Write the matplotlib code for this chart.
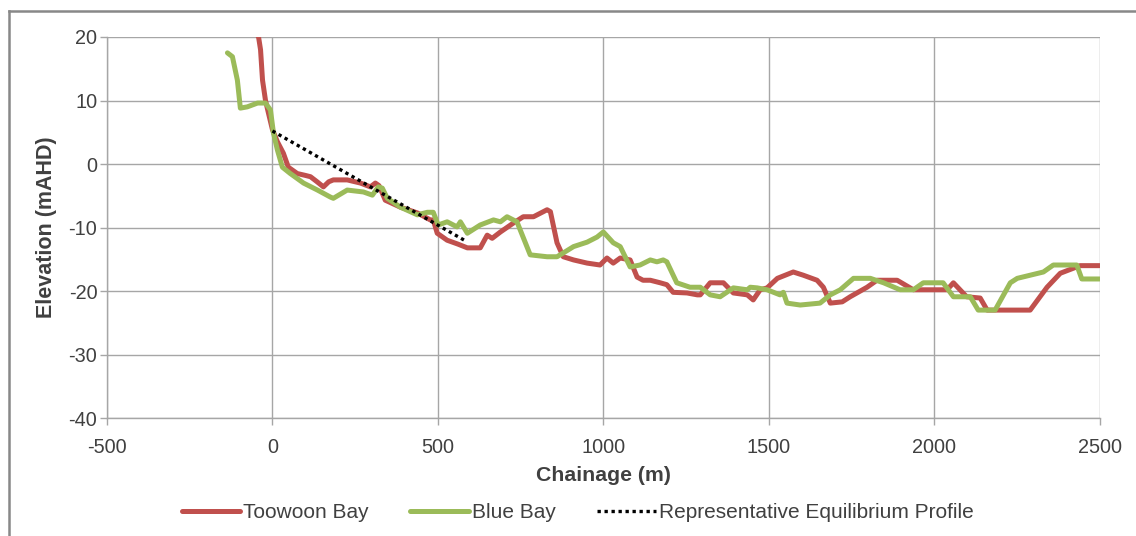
import matplotlib
matplotlib.use('Agg')
import matplotlib.pyplot as plt
from matplotlib.lines import Line2D

plt.rcParams['font.family'] = ['Liberation Sans', 'DejaVu Sans']
plt.rcParams['axes.unicode_minus'] = False

# Toowoon Bay profile (chainage m, elevation mAHD)
toowoon_x = [-100, -60, -42, -36, -30, -21, -12, 0, 15, 33, 48, 75, 100, 115, 135, 154,
             170, 184, 226, 266, 296, 311, 322, 332, 341, 387, 438, 477, 486, 498, 528,
             560, 589, 628, 649, 664, 689, 728, 758, 789, 830, 840, 860, 879, 910, 951,
             990, 1011, 1030, 1051, 1081, 1102, 1120, 1142, 1172, 1192, 1211, 1253, 1284,
             1293, 1323, 1363, 1393, 1435, 1453, 1474, 1495, 1526, 1574, 1604, 1646, 1665,
             1686, 1722, 1746, 1797, 1827, 1888, 1937, 2018, 2039, 2058, 2098, 2139, 2160,
             2290, 2341, 2381, 2441, 2500]
toowoon_y = [23, 21.5, 20, 18, 13.2, 10, 8, 5.4, 3.5, 1.7, -0.5, -1.5, -1.8, -2.0, -2.8,
             -3.6, -2.8, -2.5, -2.5, -3.0, -3.6, -3.0, -3.4, -4.6, -5.7, -6.8, -7.7, -8.8,
             -8.8, -10.9, -12.0, -12.6, -13.2, -13.2, -11.2, -11.7, -10.7, -9.3, -8.3, -8.3,
             -7.2, -7.5, -12.4, -14.6, -15.1, -15.6, -15.9, -14.8, -15.6, -14.8, -15.1,
             -17.8, -18.3, -18.3, -18.7, -19.0, -20.2, -20.3, -20.6, -20.6, -18.7, -18.7,
             -20.3, -20.6, -21.4, -19.8, -19.5, -18.0, -17.0, -17.5, -18.3, -19.4, -21.9,
             -21.7, -20.9, -19.4, -18.3, -18.3, -19.8, -19.8, -19.8, -18.7, -20.9, -21.1,
             -23.0, -23.0, -19.4, -17.2, -16.0, -16.0]

# Blue Bay profile
blue_x = [-136, -121, -106, -97, -76, -45, -21, -6, 3, 15, 30, 54, 94, 136, 175, 184, 226,
          275, 302, 320, 332, 347, 387, 438, 468, 486, 501, 528, 558, 568, 589, 628, 668,
          689, 709, 739, 779, 830, 860, 879, 910, 951, 981, 1000, 1030, 1051, 1081, 1111,
          1142, 1162, 1181, 1192, 1222, 1262, 1293, 1323, 1353, 1393, 1435, 1444, 1465,
          1495, 1534, 1544, 1555, 1595, 1655, 1686, 1716, 1756, 1807, 1847, 1897, 1937,
          1967, 2027, 2058, 2109, 2133, 2184, 2230, 2251, 2330, 2360, 2431, 2446, 2500]
blue_y = [17.5, 16.9, 13.2, 8.8, 9.0, 9.6, 9.6, 8.5, 4.9, 2.2, -0.5, -1.5, -3.0, -4.1,
          -5.2, -5.4, -4.1, -4.4, -4.9, -3.6, -3.8, -5.4, -6.8, -8.0, -7.6, -7.6, -9.6,
          -9.1, -9.9, -9.1, -10.9, -9.6, -8.8, -9.1, -8.3, -9.1, -14.3, -14.6, -14.6,
          -14.0, -13.0, -12.3, -11.5, -10.7, -12.4, -13.0, -16.2, -15.9, -15.1, -15.4,
          -15.1, -15.4, -18.7, -19.4, -19.4, -20.6, -20.9, -19.5, -19.8, -19.4, -19.5,
          -19.8, -20.6, -20.2, -21.9, -22.2, -21.9, -20.6, -19.8, -18.0, -18.0, -18.7,
          -19.8, -19.8, -18.7, -18.7, -20.9, -20.9, -23.0, -23.0, -18.7, -18.0, -17.0,
          -15.9, -15.9, -18.1, -18.1]

# representative equilibrium profile
equil_x = [0, 290, 580]
equil_y = [5.2, -3.4, -12.0]

fig = plt.figure(figsize=(11.36, 5.36), dpi=100)
ax = fig.add_axes([0.0942, 0.22, 0.8738, 0.711])

ax.plot(toowoon_x, toowoon_y, color='#C0504D', lw=3.6, label='Toowoon Bay',
        solid_capstyle='round', solid_joinstyle='round', zorder=3)
ax.plot(blue_x, blue_y, color='#9BBB59', lw=3.6, label='Blue Bay',
        solid_capstyle='round', solid_joinstyle='round', zorder=4)
ax.plot(equil_x, equil_y, color='black', lw=2.4, linestyle=(0, (1, 1.1)),
        label='Representative Equilibrium Profile', zorder=5)

ax.set_xlim(-500, 2500)
ax.set_ylim(-40, 20)
ax.set_xticks(range(-500, 2501, 500))
ax.set_yticks(range(-40, 21, 10))
ax.grid(True, color='#a6a6a6', lw=1.0)
ax.set_axisbelow(True)
for s in ['top', 'right']:
    ax.spines[s].set_visible(False)
for s in ['left', 'bottom']:
    ax.spines[s].set_color('#a6a6a6')
    ax.spines[s].set_linewidth(1.0)
ax.tick_params(axis='both', colors='#a6a6a6', length=5, width=1.0,
               labelcolor='#404040', labelsize=14.3)
ax.tick_params(axis='y', pad=2)
ax.tick_params(axis='x', pad=9)

ax.set_xlabel('Chainage (m)', fontsize=15.3, fontweight='bold', color='#404040', labelpad=7)
ax.set_ylabel('Elevation (mAHD)', fontsize=15.5, fontweight='bold', color='#404040', labelpad=8)

leg = ax.legend(loc='center', bbox_to_anchor=(0.474, -0.249), ncol=3, frameon=False,
                fontsize=15, handlelength=2.8, handletextpad=0.15, columnspacing=2.0)
for t in leg.get_texts():
    t.set_color('#404040')

# outer frame (partly cropped in the original)
fig.add_artist(Line2D([9 / 1136, 1], [1 - 11 / 536, 1 - 11 / 536],
                      transform=fig.transFigure, color='#888888', lw=1.8))
fig.add_artist(Line2D([9 / 1136, 9 / 1136], [0, 1 - 11 / 536],
                      transform=fig.transFigure, color='#888888', lw=1.8))

fig.savefig('out.png', dpi=100)
